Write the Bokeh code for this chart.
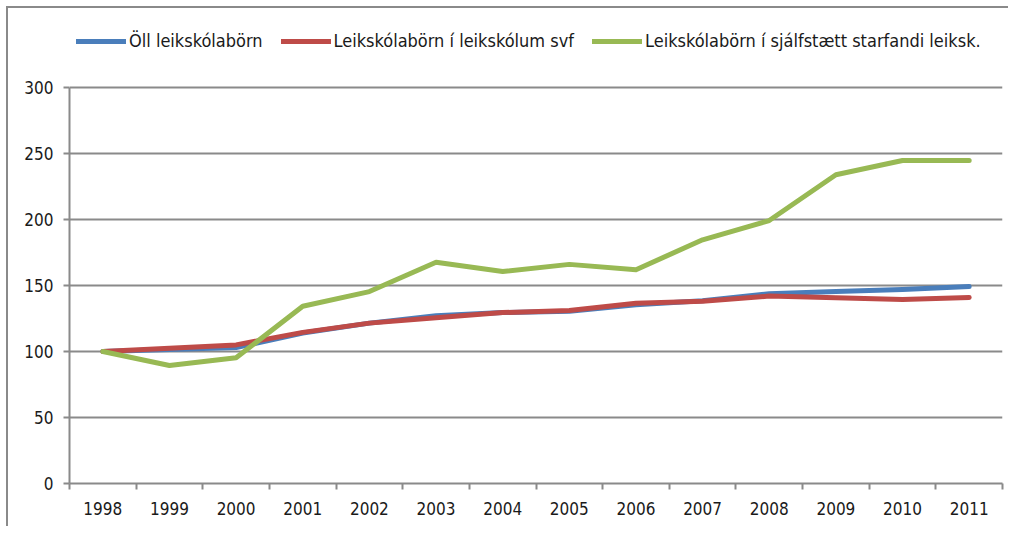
from bokeh.plotting import figure
from bokeh.models import Range1d, FixedTicker, Legend, LegendItem
from bokeh.embed import file_html
from bokeh.resources import INLINE

years = ["1998", "1999", "2000", "2001", "2002", "2003", "2004",
         "2005", "2006", "2007", "2008", "2009", "2010", "2011"]
oll = [100, 101.5, 103, 114, 121.5, 127, 129.5, 130.5, 135.5, 138.5, 143.7, 145.4, 147, 149.2]
svf = [100, 102.5, 105, 114.5, 121.5, 125.5, 129.5, 131, 136.6, 138, 142, 140.7, 139.4, 141]
sjalf = [100, 89.4, 95.2, 134.3, 145.4, 167.6, 160.6, 166, 162, 184.6, 199.2, 233.9, 244.7, 244.7]
names = ["Öll leikskólabörn", "Leikskólabörn í leikskólum svf",
         "Leikskólabörn í sjálfstætt starfandi leiksk."]
colors = ["#4A7EBB", "#BE4B48", "#98B954"]
yticks = [0, 50, 100, 150, 200, 250, 300]

FONT = "'Liberation Sans Narrow', 'DejaVu Sans Condensed', 'Liberation Sans', sans-serif"

xs = [i + 0.5 for i in range(len(years))]

# room above the 300 line is kept inside the frame for the legend
p = figure(width=1002, height=520, output_backend="svg", toolbar_location=None,
           x_range=Range1d(0, len(years)), y_range=Range1d(0, 350),
           min_border_left=61, min_border_right=8, min_border_top=13, min_border_bottom=45)
p.outline_line_color = None
p.background_fill_color = "white"
p.border_fill_color = "white"
p.styles = {"border-top": "2px solid #8a8a8a", "border-left": "2px solid #8a8a8a",
            "margin-left": "6px", "margin-top": "6px"}

renderers = []
for vals, c in zip([oll, svf, sjalf], colors):
    r = p.line(xs, vals, line_color=c, line_width=5, line_cap="round", line_join="round")
    renderers.append(r)

# x axis
p.xaxis.ticker = FixedTicker(ticks=xs, minor_ticks=list(range(len(years) + 1)))
p.xaxis.major_label_overrides = {x: y for x, y in zip(xs, years)}
p.xaxis.major_tick_line_color = None
p.xaxis.minor_tick_line_color = "#8a8a8a"
p.xaxis.minor_tick_line_width = 2
p.xaxis.minor_tick_out = 6
p.xaxis.minor_tick_in = 0
p.xaxis.axis_line_color = "#8a8a8a"
p.xaxis.axis_line_width = 2
p.xaxis.major_label_text_font = FONT
p.xaxis.major_label_text_font_size = "17px"
p.xaxis.major_label_text_color = "#1a1a1a"
p.xaxis.major_label_standoff = 12

# y axis
p.yaxis.ticker = FixedTicker(ticks=yticks, minor_ticks=[])
p.yaxis.bounds = (yticks[0], yticks[-1])
p.yaxis.major_tick_line_color = "#8a8a8a"
p.yaxis.major_tick_line_width = 2
p.yaxis.major_tick_out = 6
p.yaxis.major_tick_in = 0
p.yaxis.axis_line_color = "#8a8a8a"
p.yaxis.axis_line_width = 2
p.yaxis.major_label_text_font = FONT
p.yaxis.major_label_text_font_size = "17px"
p.yaxis.major_label_text_color = "#1a1a1a"
p.yaxis.major_label_standoff = 10

p.xgrid.grid_line_color = None
p.ygrid.grid_line_color = "#8a8a8a"
p.ygrid.grid_line_width = 2

legend = Legend(items=[LegendItem(label=n, renderers=[r]) for n, r in zip(names, renderers)],
                orientation="horizontal", location=(7, 432),
                glyph_width=50, glyph_height=20, label_standoff=3, spacing=18,
                padding=0, margin=0, border_line_color=None, background_fill_alpha=0,
                label_text_font=FONT, label_text_font_size="18px",
                label_text_color="#1a1a1a", label_height=20)
p.add_layout(legend, "center")

open("out.html", "w").write(file_html(p, INLINE))
